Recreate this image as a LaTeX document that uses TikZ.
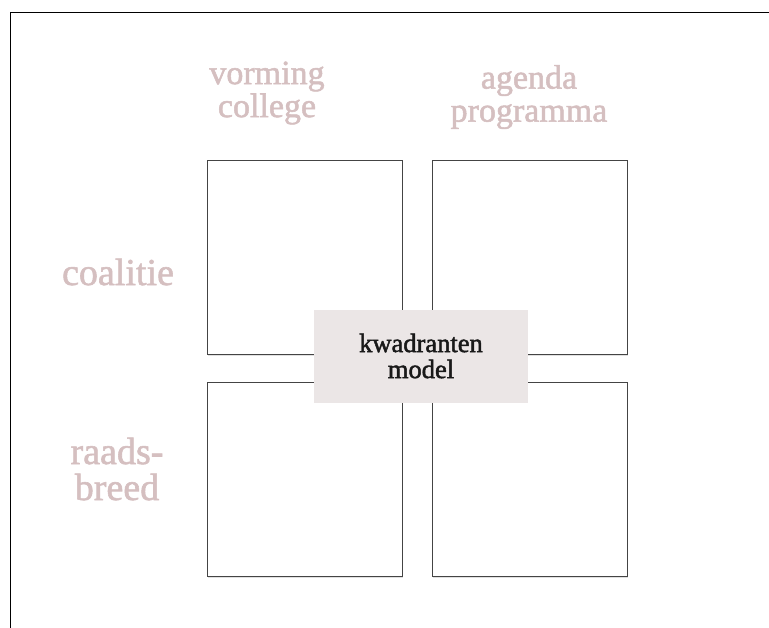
\documentclass[tikz,border=0pt]{standalone}
\usepackage{fontspec}
\setmainfont{Liberation Serif}
\definecolor{pinktext}{HTML}{D5BFC0}
\definecolor{centerfill}{HTML}{EBE6E6}
\definecolor{boxline}{HTML}{444444}
\begin{document}
\begin{tikzpicture}[x=1pt,y=-1pt,
  quad/.style={draw=boxline,line width=0.9pt,fill=white,minimum width=195pt,minimum height=194pt,inner sep=0pt,anchor=north west},
  qshadow/.style={fill=black!12,minimum width=195pt,minimum height=194pt,inner sep=0pt,anchor=north west},
  lbl/.style={text=pinktext,align=center,font=\fontsize{38}{36}\selectfont\addfontfeature{FakeBold=1.5}},
  hdr/.style={text=pinktext,align=center,font=\fontsize{34}{33}\selectfont\addfontfeature{FakeBold=1.5}}]
\useasboundingbox (0,0) rectangle (769,627);
\fill[white] (0,0) rectangle (769,627);
\draw[black,line width=1pt] (10.5,640) -- (10.5,12.5) -- (780,12.5);
% shadows
\node[qshadow] at (208,162) {};
\node[qshadow] at (433,162) {};
\node[qshadow] at (208,384) {};
\node[qshadow] at (433,384) {};
% quadrants
\node[quad] (q1) at (207,160) {};
\node[quad] (q2) at (432,160) {};
\node[quad] (q3) at (207,382) {};
\node[quad] (q4) at (432,382) {};
% center
\node[fill=centerfill,minimum width=214pt,minimum height=93pt,inner sep=0pt,align=center,
  font=\fontsize{26.5}{26}\selectfont\addfontfeature{FakeBold=1.8},text=black!90] (c) at (421,356) {kwadranten\\model};
% labels
\node[hdr] (h1) at (267,93) {vorming\\college};
\node[hdr] (h2) at (529,97) {agenda\\programma};
\node[lbl] (r1) at (118,272) {coalitie};
\node[lbl] (r2) at (117,469) {raads-\\breed};
\end{tikzpicture}
\end{document}
